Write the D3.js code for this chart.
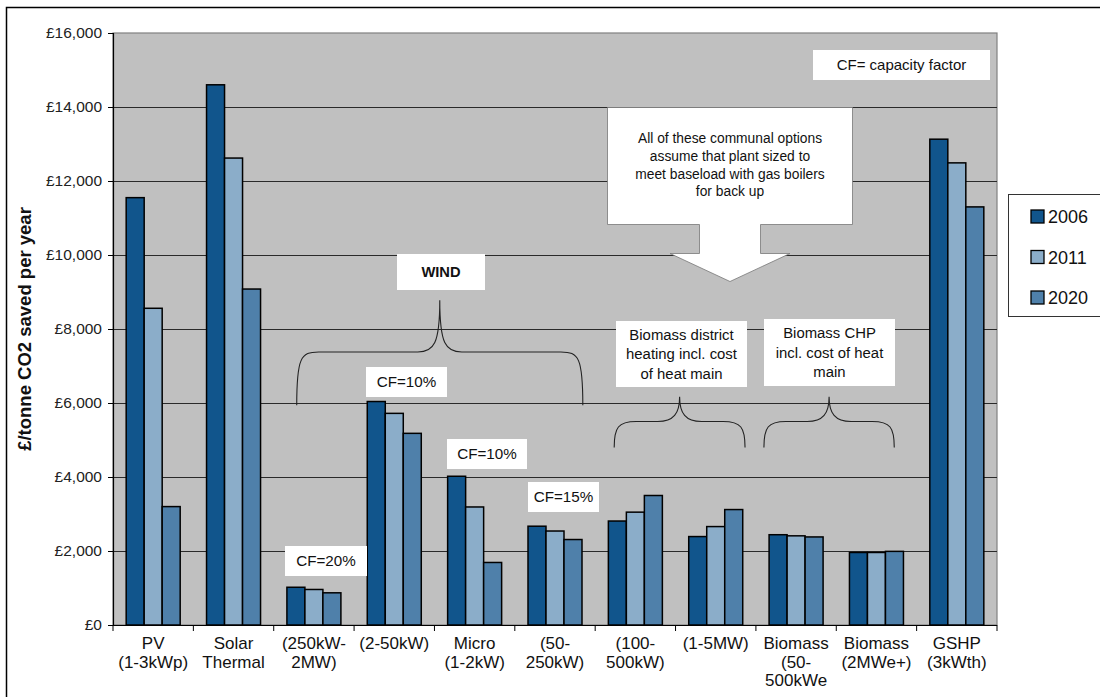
<!DOCTYPE html>
<html>
<head>
<meta charset="utf-8">
<script src="https://cdn.jsdelivr.net/npm/d3@7"></script>
<style>
  html, body { margin: 0; padding: 0; background: #fff; }
  svg { display: block; font-family: "Liberation Sans", Arial, sans-serif; }
</style>
</head>
<body>
<svg id="chart" width="1100" height="697"></svg>
<script>
// Technology categories (each label split into lines)
const categories = [
  ["PV", "(1-3kWp)"],
  ["Solar", "Thermal"],
  ["(250kW-", "2MW)"],
  ["(2-50kW)"],
  ["Micro", "(1-2kW)"],
  ["(50-", "250kW)"],
  ["(100-", "500kW)"],
  ["(1-5MW)"],
  ["Biomass", "(50-", "500kWe"],
  ["Biomass", "(2MWe+)"],
  ["GSHP", "(3kWth)"]
];
const seriesNames = ["2006", "2011", "2020"];

// £ per tonne CO2 saved per year, one array per year
const values2006 = [11550, 14600, 1020, 6040, 4020, 2670, 2810, 2390, 2440, 1960, 13130];
const values2011 = [8560, 12620, 960, 5720, 3190, 2540, 3050, 2660, 2410, 1960, 12490];
const values2020 = [3200, 9080, 870, 5180, 1690, 2310, 3500, 3120, 2380, 1990, 11300];

const yTicks = [0, 2000, 4000, 6000, 8000, 10000, 12000, 14000, 16000];
const seriesColors = ["#11558c", "#8badc9", "#4f80aa"];

const svg = d3.select("#chart");
const W = 1100, H = 697;

// outer frame
svg.append("rect")
  .attr("x", 6.5).attr("y", 7.5)
  .attr("width", W + 20).attr("height", H + 20)
  .attr("fill", "none").attr("stroke", "#000").attr("stroke-width", 1.5);

const plot = { left: 113, right: 997, top: 33, bottom: 625 };
const catKeys = categories.map((c, i) => i);

const x0 = d3.scaleBand().domain(catKeys).range([plot.left, plot.right]).padding(0);
const barW = 18;
const groupOff = (x0.bandwidth() - 3 * barW) / 2;
const x1 = d3.scaleBand().domain(seriesNames)
  .range([groupOff, groupOff + 3 * barW]).padding(0);
const y = d3.scaleLinear().domain([0, 16000]).range([plot.bottom, plot.top]);

// plot background
svg.append("rect")
  .attr("x", plot.left).attr("y", plot.top)
  .attr("width", plot.right - plot.left).attr("height", plot.bottom - plot.top)
  .attr("fill", "#c0c0c0").attr("stroke", "#808080").attr("stroke-width", 1.2);

// gridlines
svg.append("g")
  .selectAll("line")
  .data(yTicks.filter(t => t > 0 && t < 16000))
  .join("line")
  .attr("x1", plot.left).attr("x2", plot.right)
  .attr("y1", d => Math.round(y(d)) + 0.5).attr("y2", d => Math.round(y(d)) + 0.5)
  .attr("stroke", "#2a2a2a").attr("stroke-width", 1);

// y axis
const yAxis = d3.axisLeft(y).tickValues(yTicks)
  .tickFormat(d => "£" + d3.format(",")(d))
  .tickSize(5).tickPadding(6);
const gy = svg.append("g").attr("transform", `translate(${plot.left},0)`).call(yAxis);
gy.select(".domain").attr("stroke", "#000").attr("stroke-width", 1.2);
gy.selectAll(".tick line").attr("stroke", "#000");
gy.selectAll(".tick text")
  .attr("font-family", "Liberation Sans, Arial, sans-serif")
  .attr("font-size", 15.5).attr("fill", "#222");

// x axis: tick marks at category boundaries
const boundaries = catKeys.map(i => x0(i)).concat([plot.right]);
svg.append("line")
  .attr("x1", plot.left).attr("x2", plot.right)
  .attr("y1", plot.bottom + 0.5).attr("y2", plot.bottom + 0.5)
  .attr("stroke", "#000").attr("stroke-width", 1.2);
svg.append("g").selectAll("line").data(boundaries).join("line")
  .attr("x1", d => d).attr("x2", d => d)
  .attr("y1", plot.bottom).attr("y2", plot.bottom + 6)
  .attr("stroke", "#000");

// category labels
const labels = svg.append("g")
  .attr("font-size", 17).attr("fill", "#111").attr("text-anchor", "middle");
categories.forEach((lines, i) => {
  const cx = x0(i) + x0.bandwidth() / 2;
  const t = labels.append("text").attr("x", cx).attr("y", 649);
  lines.forEach((ln, j) => {
    t.append("tspan").attr("x", cx).attr("dy", j === 0 ? 0 : 18.5).text(ln);
  });
});

// bars
const allSeries = [values2006, values2011, values2020];
const barData = [];
catKeys.forEach(i => {
  seriesNames.forEach((s, k) => barData.push({ cat: i, series: s, k, v: allSeries[k][i] }));
});
svg.append("g").selectAll("rect").data(barData).join("rect")
  .attr("x", d => x0(d.cat) + x1(d.series))
  .attr("y", d => y(d.v))
  .attr("width", x1.bandwidth())
  .attr("height", d => y(0) - y(d.v))
  .attr("fill", d => seriesColors[d.k])
  .attr("stroke", "#000").attr("stroke-width", 1.5);

// y axis title
svg.append("text")
  .attr("transform", `translate(31,${(plot.top + plot.bottom) / 2}) rotate(-90)`)
  .attr("text-anchor", "middle")
  .attr("font-size", 18.5).attr("font-weight", "bold").attr("fill", "#111")
  .text("£/tonne CO2 saved per year");

// legend
const lg = svg.append("g");
lg.append("rect").attr("x", 1008.5).attr("y", 194.5).attr("width", 110).attr("height", 122)
  .attr("fill", "#fff").attr("stroke", "#333").attr("stroke-width", 1);
seriesNames.forEach((s, k) => {
  const cy = 216 + k * 40.5;
  lg.append("rect").attr("x", 1031).attr("y", cy - 6).attr("width", 13).attr("height", 13)
    .attr("fill", seriesColors[k]).attr("stroke", "#000").attr("stroke-width", 1.3);
  lg.append("text").attr("x", 1048).attr("y", cy + 7)
    .attr("font-size", 18).attr("fill", "#111").text(s);
});

// annotation helpers
const ann = svg.append("g");
function labelBox(x, yTop, w, h, lines, opts = {}) {
  ann.append("rect").attr("x", x).attr("y", yTop).attr("width", w).attr("height", h)
    .attr("fill", "#fff");
  const lh = opts.lineHeight || 18;
  const fs = opts.fontSize || 15;
  const startY = yTop + h / 2 - (lines.length - 1) * lh / 2 + fs * 0.36;
  lines.forEach((ln, j) => {
    ann.append("text").attr("x", x + w / 2).attr("y", startY + j * lh)
      .attr("text-anchor", "middle").attr("font-size", fs)
      .attr("font-weight", opts.bold ? "bold" : "normal")
      .attr("fill", "#111").text(ln);
  });
}
function brace(xa, xb, yTip, yMid, yEnd) {
  const xm = (xa + xb) / 2;
  const r = 22;
  const p = d3.path();
  p.moveTo(xa, yEnd);
  p.bezierCurveTo(xa, yMid + 6, xa + 4, yMid, xa + r, yMid);
  p.lineTo(xm - r, yMid);
  p.bezierCurveTo(xm - 6, yMid, xm, yMid - 8, xm, yTip);
  p.bezierCurveTo(xm, yMid - 8, xm + 6, yMid, xm + r, yMid);
  p.lineTo(xb - r, yMid);
  p.bezierCurveTo(xb - 4, yMid, xb, yMid + 6, xb, yEnd);
  ann.append("path").attr("d", p.toString())
    .attr("fill", "none").attr("stroke", "#222").attr("stroke-width", 1.1);
}

// capacity factor key
labelBox(813, 50, 177, 30, ["CF= capacity factor"], { fontSize: 15 });

// wind group
labelBox(397, 254, 88, 36, ["WIND"], { bold: true, fontSize: 14.7 });
brace(x0(2) + 23, x0(5) + 68, y(8780), y(7380), y(5940));
labelBox(366, 367, 81, 30, ["CF=10%"], { fontSize: 15.2 });
labelBox(285, 546, 82, 30, ["CF=20%"], { fontSize: 15.2 });
labelBox(447, 439, 80, 30, ["CF=10%"], { fontSize: 15.2 });
labelBox(528, 482, 71, 30, ["CF=15%"], { fontSize: 15.2 });

// biomass groups
labelBox(616, 321, 131, 66, ["Biomass district", "heating incl. cost", "of heat main"], { fontSize: 14.9, lineHeight: 19.8 });
brace(x0(6) + 19, x0(7) + 69.5, y(6170), y(5500), y(4800));
labelBox(764, 319, 131, 67, ["Biomass CHP", "incl. cost of heat", "main"], { fontSize: 14.9, lineHeight: 19.5 });
brace(x0(8) + 8, x0(9) + 58, y(6170), y(5500), y(4800));

// communal options callout arrow
const ca = d3.path();
ca.moveTo(607.5, 107.5);
ca.lineTo(852.5, 107.5);
ca.lineTo(852.5, 224.5);
ca.lineTo(760.5, 224.5);
ca.lineTo(760.5, 253.5);
ca.lineTo(790, 253.5);
ca.lineTo(730, 281.5);
ca.lineTo(670, 253.5);
ca.lineTo(699.5, 253.5);
ca.lineTo(699.5, 224.5);
ca.lineTo(607.5, 224.5);
ca.closePath();
ann.append("path").attr("d", ca.toString())
  .attr("fill", "#fff").attr("stroke", "#777").attr("stroke-width", 0.8);
["All of these communal options", "assume that plant sized to",
 "meet baseload with gas boilers", "for back up"].forEach((ln, j) => {
  ann.append("text").attr("x", 730).attr("y", 143 + j * 17.8)
    .attr("text-anchor", "middle").attr("font-size", 13.8).attr("fill", "#111").text(ln);
});
</script>
</body>
</html>
